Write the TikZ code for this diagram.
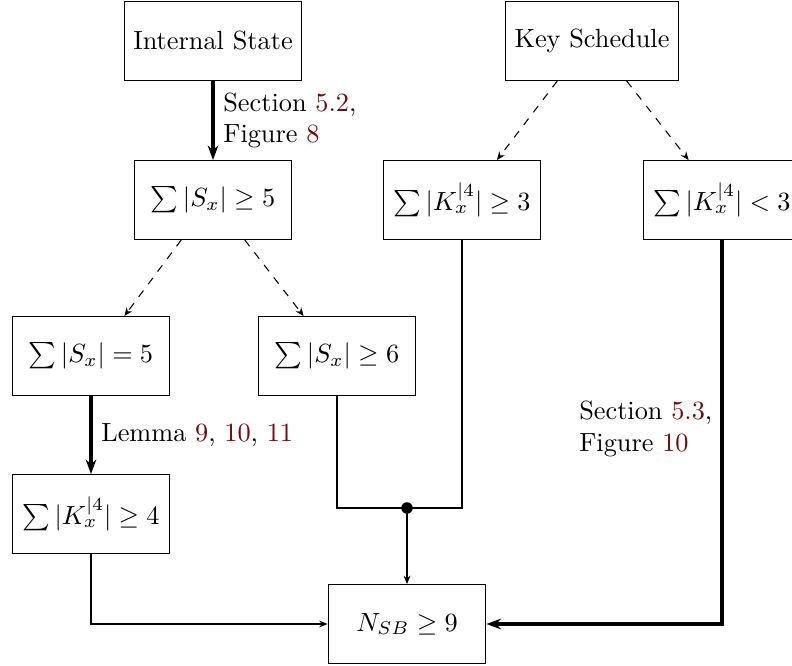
\documentclass[tikz,border=0pt]{standalone}
\usetikzlibrary{arrows.meta,calc}
\definecolor{linkred}{rgb}{0.45,0.04,0.04}
\begin{document}
\begin{tikzpicture}[x=0.3802pt,y=-0.3802pt,
  box/.style={draw, line width=0.4pt, minimum height=30pt, minimum width=60pt, inner sep=3.33pt},
  thinarrow/.style={line width=0.4pt, -{Stealth[length=3.2pt,width=2.6pt]}},
  dasharrow/.style={dashed, line width=0.4pt, -{Stealth[length=3.2pt,width=2.6pt]}},
  thickarrow/.style={line width=1.2pt, -{Stealth[length=5.5pt,width=4pt]}},
  lbl/.style={align=left, inner sep=3.33pt}]
\useasboundingbox (0,0) rectangle (792,666);
\node[box] (is) at (213,41) {Internal State};
\node[box] (ks) at (592,41) {Key Schedule};
\node[box] (s5) at (213,200) {$\sum|S_x|\geq 5$};
\node[box] (k3) at (462,200) {$\sum|K_x^{|4}|\geq 3$};
\node[box] (k3b) at (722,200) {$\sum|K_x^{|4}|<3$};
\node[box] (se5) at (91,356) {$\sum|S_x|=5$};
\node[box] (s6) at (337,356) {$\sum|S_x|\geq 6$};
\node[box] (k4) at (91,514) {$\sum|K_x^{|4}|\geq 4$};
\node[box] (nsb) at (407,624) {$N_{SB}\geq 9$};
\coordinate (dot) at (407,508);
\fill (dot) circle[radius=2.2pt];

\draw[thickarrow] (is.south) -- node[lbl, right] {Section \textcolor{linkred}{5.2},\\Figure \textcolor{linkred}{8}} (s5.north);
\draw[dasharrow] ($(ks.south west)!0.3!(ks.south east)$) -- ($(k3.north west)!0.72!(k3.north east)$);
\draw[dasharrow] ($(ks.south west)!0.7!(ks.south east)$) -- ($(k3b.north west)!0.29!(k3b.north east)$);
\draw[dasharrow] ($(s5.south west)!0.3!(s5.south east)$) -- ($(se5.north west)!0.71!(se5.north east)$);
\draw[dasharrow] ($(s5.south west)!0.7!(s5.south east)$) -- ($(s6.north west)!0.29!(s6.north east)$);
\draw[thickarrow] (se5.south) -- node[lbl, right] {Lemma \textcolor{linkred}{9}, \textcolor{linkred}{10}, \textcolor{linkred}{11}} (k4.north);
\draw[thinarrow] (k4.south) |- (nsb.west);
\draw[thickarrow] (k3b.south) |- (nsb.east);
\draw[line width=0.4pt] (s6.south) |- (dot) -| (k3.south);
\draw[thinarrow] (dot) -- (nsb.north);
\node[lbl, anchor=west] (l53) at (570,429) {Section \textcolor{linkred}{5.3},\\Figure \textcolor{linkred}{10}};
\end{tikzpicture}
\end{document}
